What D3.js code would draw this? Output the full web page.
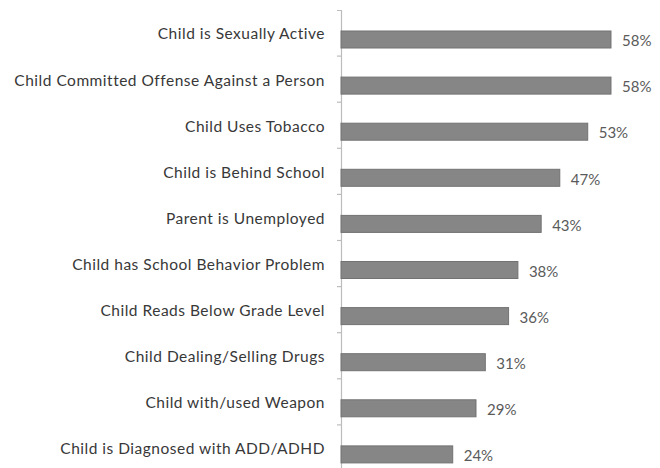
<!DOCTYPE html>
<html>
<head>
<meta charset="utf-8">
<script src="https://cdn.jsdelivr.net/npm/d3@7"></script>
<style>
  html, body { margin: 0; padding: 0; background: #ffffff; }
  svg { display: block; }
</style>
</head>
<body>
<svg id="chart" width="660" height="468"></svg>
<script>
// Risk factors, top to bottom
const categories = [
  "Child is Sexually Active",
  "Child Committed Offense Against a Person",
  "Child Uses Tobacco",
  "Child is Behind School",
  "Parent is Unemployed",
  "Child has School Behavior Problem",
  "Child Reads Below Grade Level",
  "Child Dealing/Selling Drugs",
  "Child with/used Weapon",
  "Child is Diagnosed with ADD/ADHD"
];
// Share of cases with each factor (percent)
const values = [58, 58, 53, 47, 43, 38, 36, 31, 29, 24];
const valueLabels = values.map(v => v + "%");

const svg = d3.select("#chart");
const axisX = 341;

const x = d3.scaleLinear().domain([0, 60]).range([axisX, axisX + 60 * 4.655]);
const y = d3.scaleBand().domain(categories).range([10, 10 + 46.1 * categories.length]);

// Vertical category axis line with end ticks
svg.append("g")
  .attr("transform", `translate(${axisX},0)`)
  .call(d3.axisLeft(y).tickSize(0).tickSizeOuter(4).tickFormat(""))
  .call(g => g.select(".domain").attr("stroke", "#bcbcbc").attr("stroke-width", 1.2));

// Tick marks between categories
svg.append("g").selectAll("line")
  .data(categories.slice(1))
  .join("line")
  .attr("x1", axisX - 4).attr("x2", axisX)
  .attr("y1", d => y(d)).attr("y2", d => y(d))
  .attr("stroke", "#bcbcbc").attr("stroke-width", 1.2);

// Bars
svg.append("g").selectAll("rect")
  .data(categories)
  .join("rect")
  .attr("x", x(0))
  .attr("y", d => y(d) + 21)
  .attr("width", (d, i) => x(values[i]) - x(0))
  .attr("height", 17)
  .attr("fill", "#868686")
  .attr("stroke", "#727272")
  .attr("stroke-width", 1);

// Category labels
svg.append("g").selectAll("text")
  .data(categories)
  .join("text")
  .attr("x", 325)
  .attr("y", d => y(d) + 24)
  .attr("dy", "0.35em")
  .attr("text-anchor", "end")
  .attr("font-family", "Lato, 'Open Sans', sans-serif")
  .attr("font-size", 15.5)
  .attr("letter-spacing", 0.5)
  .attr("fill", "#383838")
  .text(d => d);

// Value labels
svg.append("g").selectAll("text")
  .data(categories)
  .join("text")
  .attr("x", (d, i) => x(values[i]) + 11)
  .attr("y", d => y(d) + 31)
  .attr("dy", "0.35em")
  .attr("font-family", "Lato, 'Open Sans', sans-serif")
  .attr("font-size", 15)
  .attr("fill", "#5a5a5a")
  .text((d, i) => valueLabels[i]);
</script>
</body>
</html>
